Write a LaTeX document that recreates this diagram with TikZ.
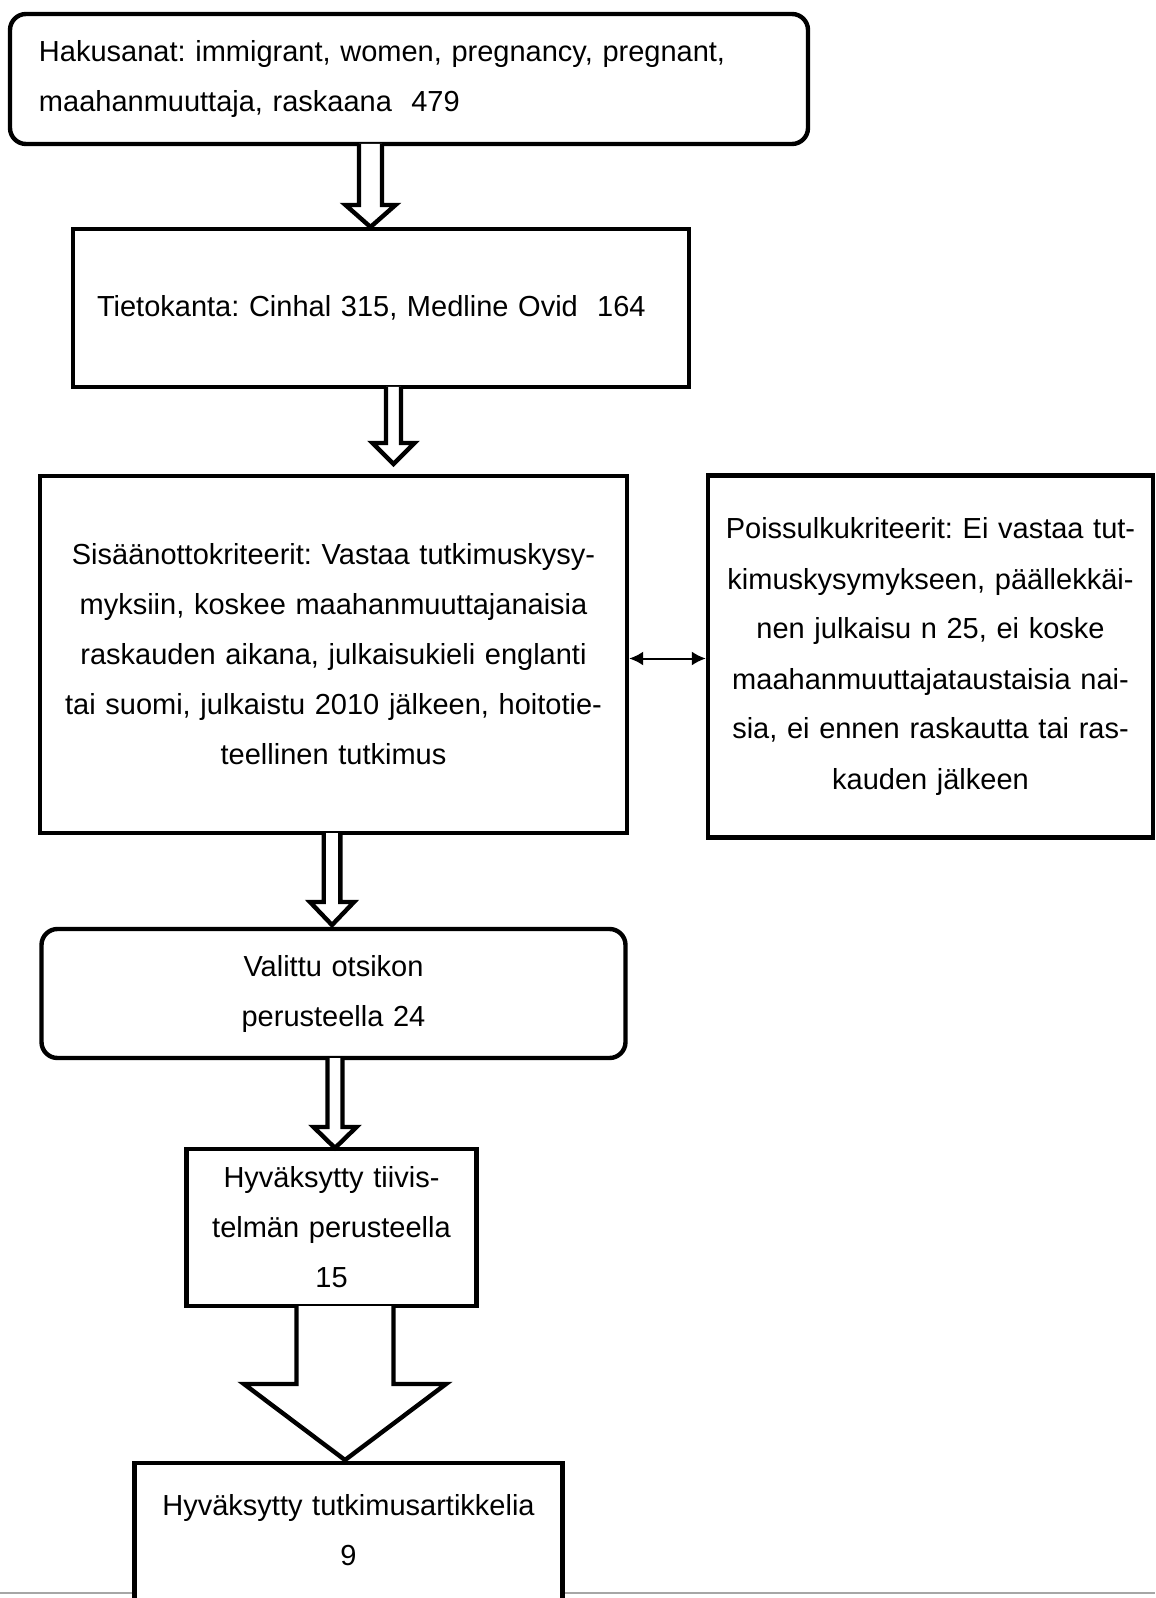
\documentclass[tikz,border=0pt]{standalone}
\usepackage{fontspec}
\setmainfont{Liberation Sans}
\usepackage{tikz}
\usetikzlibrary{positioning,calc,arrows.meta}
\frenchspacing

% hollow block arrow: from, to, x, shaft half width, head half width, head length, gap
\newcommand{\hollowarrow}[7]{%
  \draw[blockline] let \p1=(#1.south), \p2=(#2.north) in
    (#3-#4,\y1) -- (#3-#4,\y2+#7+#6) -- (#3-#5,\y2+#7+#6) -- (#3,\y2+#7)
    -- (#3+#5,\y2+#7+#6) -- (#3+#4,\y2+#7+#6) -- (#3+#4,\y1);}

\begin{document}
\begin{tikzpicture}[>={Latex[length=7pt,width=7pt]},
                    every node/.style={font=\fontsize{14.5pt}{25pt}\selectfont},
                    box/.style={draw, line width=2.2pt, fill=white, outer sep=0pt,
                                inner ysep=0pt, inner xsep=4pt, align=center},
                    roundbox/.style={box, rounded corners=8pt},
                    blockline/.style={draw, line width=2.2pt, fill=white}]
  \useasboundingbox (0,0) rectangle (577.5pt,-799pt);
  \clip (0,0) rectangle (577.5pt,-799pt);
  \draw[black!35, line width=0.6pt] (0,-796.5pt) -- (577.5pt,-796.5pt);

  \node[roundbox, align=left, inner xsep=14.5pt, text width=370pt, minimum height=65pt]
    (hak) at (204.5pt,-39.5pt)
    {Hakusanat: immigrant, women, pregnancy, pregnant,\\maahanmuuttaja, raskaana\ \ 479};
  \node[box, align=left, inner xsep=12pt, text width=284pt, minimum height=79pt,
        below=42.5pt of hak, xshift=-14pt] (tieto)
    {Tietokanta: Cinhal 315, Medline Ovid\ \ 164};
  \node[box, text width=285.5pt, minimum height=178.5pt,
        below=44.5pt of tieto, xshift=-23.75pt] (sis)
    {Sisäänottokriteerit: Vastaa tutkimuskysy-\\myksiin, koskee maahanmuuttajanaisia\\
     raskauden aikana, julkaisukieli englanti\\tai suomi, julkaistu 2010 jälkeen, hoitotie-\\
     teellinen tutkimus};
  \node[box, text width=214.5pt, minimum height=181pt,
        right=40.5pt of sis, yshift=-1pt] (pois)
    {Poissulkukriteerit: Ei vastaa tut-\\kimuskysymykseen, päällekkäi-\\nen julkaisu n 25, ei koske\\
     maahanmuuttajataustaisia nai-\\sia, ei ennen raskautta tai ras-\\kauden jälkeen};
  \node[roundbox, text width=284pt, minimum height=64.5pt,
        below=48pt of sis] (val)
    {Valittu otsikon\\perusteella 24};
  \node[box, text width=137pt, minimum height=78.5pt,
        below=45.5pt of val, xshift=-1pt] (hyv)
    {Hyväksytty tiivis-\\telmän perusteella\\15};
  \node[box, text width=206pt, minimum height=117pt,
        below=78.5pt of hyv, xshift=8.5pt] (art)
    {Hyväksytty tutkimusartikkelia\\9\\~\\~};

  \hollowarrow{hak}{tieto}{185.25pt}{5.75pt}{12.5pt}{11pt}{1pt}
  \hollowarrow{tieto}{sis}{196.75pt}{3.75pt}{10.5pt}{10.5pt}{6pt}
  \hollowarrow{sis}{val}{166pt}{4.15pt}{11pt}{11.5pt}{2pt}
  \hollowarrow{val}{hyv}{167.5pt}{3.75pt}{10.75pt}{10.5pt}{0.5pt}
  \hollowarrow{hyv}{art}{172.5pt}{24.25pt}{50.5pt}{38pt}{1.5pt}
  \draw[<->, line width=1pt, shorten <=1.1pt, shorten >=1.1pt]
    ([yshift=-2pt]sis.east) -- ([yshift=-2pt]sis.east -| pois.west);
\end{tikzpicture}
\end{document}
